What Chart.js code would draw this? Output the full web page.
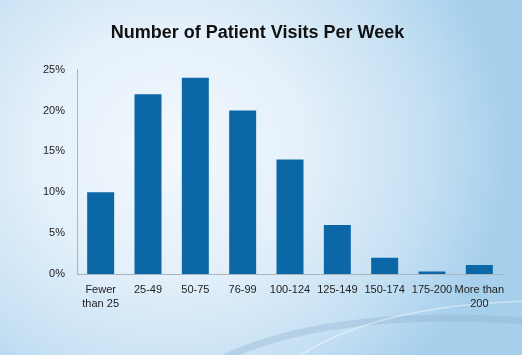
<!DOCTYPE html>
<html>
<head>
<meta charset="utf-8">
<script src="https://cdn.jsdelivr.net/npm/chart.js@4/dist/chart.umd.min.js"></script>
<style>
  html, body { margin: 0; padding: 0; }
  body {
    width: 522px; height: 355px; overflow: hidden;
    background: radial-gradient(ellipse 340px 310px at 170px 150px, #f3f8fd 0%, #e4f0fa 40%, #c5e0f3 75%, #a6cfec 100%);
  }
  #wrap { position: relative; width: 522px; height: 355px; }
</style>
</head>
<body>
<div id="wrap"><canvas id="c" width="522" height="355"></canvas></div>
<script>
const categories = [['Fewer', 'than 25'], '25-49', '50-75', '76-99', '100-124', '125-149', '150-174', '175-200', ['More than', '200']];
const visitShare = [10, 22, 24, 20, 14, 6, 2, 0.3, 1.1];
const yTicks = [0, 5, 10, 15, 20, 25];

const swirl = {
  id: 'swirl',
  beforeDraw(chart) {
    const ctx = chart.ctx;
    ctx.save();
    ctx.lineCap = 'round';
    ctx.strokeStyle = 'rgba(140,175,205,0.35)';
    ctx.lineWidth = 7;
    ctx.beginPath();
    ctx.moveTo(215, 362);
    ctx.quadraticCurveTo(330, 305, 540, 322);
    ctx.stroke();
    ctx.strokeStyle = 'rgba(255,255,255,0.45)';
    ctx.lineWidth = 1.5;
    ctx.beginPath();
    ctx.moveTo(290, 362);
    ctx.quadraticCurveTo(370, 305, 530, 301);
    ctx.stroke();
    ctx.restore();
  }
};

new Chart(document.getElementById('c'), {
  type: 'bar',
  data: {
    labels: categories,
    datasets: [{
      data: visitShare,
      backgroundColor: '#0b67a6',
      barPercentage: 0.57,
      categoryPercentage: 1.0
    }]
  },
  plugins: [swirl],
  options: {
    responsive: false,
    animation: false,
    layout: { padding: { left: 12, right: 19, top: 0, bottom: 41 } },
    plugins: {
      legend: { display: false },
      tooltip: { enabled: false },
      title: {
        display: true,
        text: 'Number of Patient Visits Per Week',
        color: '#111',
        font: { family: 'Liberation Sans, Arial, sans-serif', size: 18, weight: 'bold' },
        padding: { top: 22, bottom: 26 }
      }
    },
    scales: {
      x: {
        grid: { display: false, drawTicks: false },
        border: { display: true, color: '#a9b4bf', width: 1 },
        ticks: {
          color: '#222',
          font: { family: 'Liberation Sans, Arial, sans-serif', size: 11, lineHeight: 1.28 },
          padding: 9,
          maxRotation: 0,
          autoSkip: false
        },
        afterFit(s) { s.height = 40; }
      },
      y: {
        min: 0, max: 25,
        afterBuildTicks(s) { s.ticks = yTicks.map(v => ({ value: v })); },
        grid: { display: false, drawTicks: false },
        border: { display: true, color: '#a9b4bf', width: 1 },
        ticks: {
          color: '#222',
          font: { family: 'Liberation Sans, Arial, sans-serif', size: 11 },
          padding: 12,
          callback: v => v + '%'
        },
        afterFit(s) { s.width = 65; }
      }
    }
  }
});
</script>
</body>
</html>
